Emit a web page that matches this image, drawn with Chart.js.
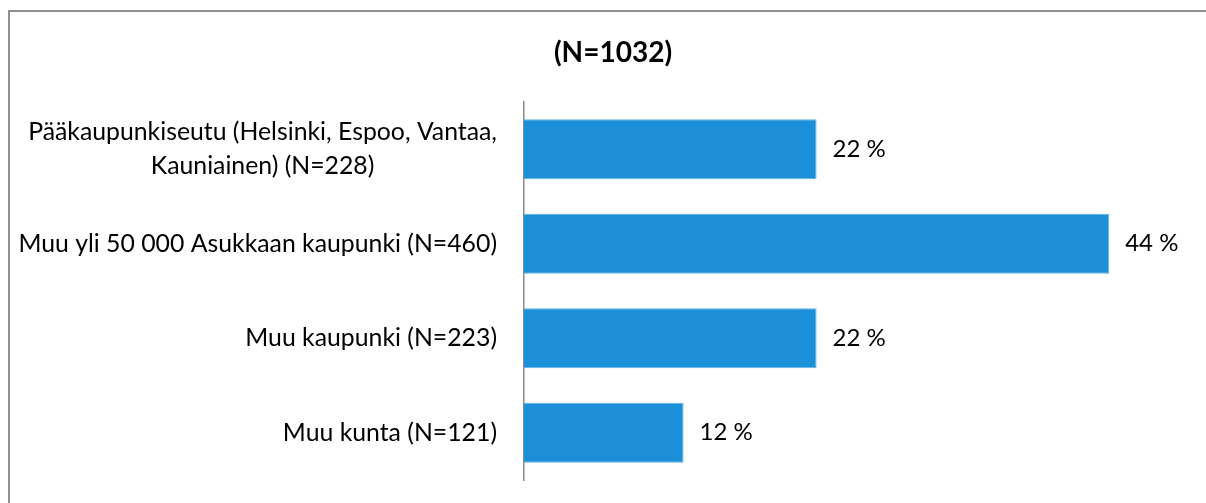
<!DOCTYPE html>
<html>
<head>
<meta charset="utf-8">
<script src="https://cdn.jsdelivr.net/npm/chart.js@4"></script>
<style>
  html, body { margin: 0; padding: 0; background: #fff; }
  #wrap { position: relative; width: 1206px; height: 503px; }
</style>
</head>
<body>
<div id="wrap"><canvas id="chart"></canvas></div>
<script>
// data
const categories = [
  ['Pääkaupunkiseutu (Helsinki, Espoo, Vantaa,', 'Kauniainen) (N=228)'],
  ['Muu yli 50 000 Asukkaan kaupunki (N=460)'],
  ['Muu kaupunki (N=223)'],
  ['Muu kunta (N=121)']
];
const shares = [22, 44, 22, 12];
const titleText = '(N=1032)';

const FONT = 'Lato, "Open Sans", sans-serif';

// border, title, category labels and value labels
const decorations = {
  id: 'decorations',
  beforeDraw(chart) {
    const ctx = chart.ctx;
    ctx.save();
    ctx.strokeStyle = '#8f8f8f';
    ctx.lineWidth = 2;
    ctx.beginPath();
    ctx.moveTo(9, 503);
    ctx.lineTo(9, 11);
    ctx.lineTo(1206, 11);
    ctx.stroke();
    ctx.restore();
  },
  afterDatasetsDraw(chart) {
    const ctx = chart.ctx;
    const y = chart.scales.y;
    const meta = chart.getDatasetMeta(0);
    ctx.save();

    // title
    ctx.fillStyle = '#000';
    ctx.font = 'bold 28px ' + FONT;
    ctx.textAlign = 'center';
    ctx.textBaseline = 'middle';
    ctx.fillText(titleText, 613, 53);

    // category labels: block right-aligned, lines centred within it
    ctx.font = '24.8px ' + FONT;
    const right = chart.chartArea.left - 27;
    categories.forEach((lines, i) => {
      const cy = y.getPixelForValue(i);
      const maxW = Math.max(...lines.map(l => ctx.measureText(l).width));
      const cx = right - maxW / 2;
      const lh = 34;
      lines.forEach((line, j) => {
        ctx.fillText(line, cx, cy + (j - (lines.length - 1) / 2) * lh);
      });
    });

    // value labels
    ctx.font = '24px ' + FONT;
    ctx.textAlign = 'left';
    meta.data.forEach((bar, i) => {
      ctx.fillText(shares[i] + ' %', bar.x + 16, bar.y);
    });
    ctx.restore();
  }
};

new Chart(document.getElementById('chart'), {
  type: 'bar',
  data: {
    labels: categories,
    datasets: [{
      data: shares,
      backgroundColor: '#1c8fd9',
      borderColor: '#5fb0e6',
      borderWidth: 1,
      barPercentage: 0.635,
      categoryPercentage: 1
    }]
  },
  options: {
    indexAxis: 'y',
    responsive: true,
    maintainAspectRatio: false,
    animation: false,
    layout: { padding: { left: 524, right: 17, top: 102, bottom: 23 } },
    plugins: {
      legend: { display: false },
      tooltip: { enabled: false },
      title: { display: false }
    },
    scales: {
      x: { display: false, min: 0, max: 50 },
      y: {
        grid: { display: false, drawTicks: false },
        ticks: { display: false },
        border: { display: true, color: '#8a8a8a', width: 1.5 },
        afterFit(scale) { scale.width = 0; }
      }
    }
  },
  plugins: [decorations]
});
</script>
</body>
</html>
